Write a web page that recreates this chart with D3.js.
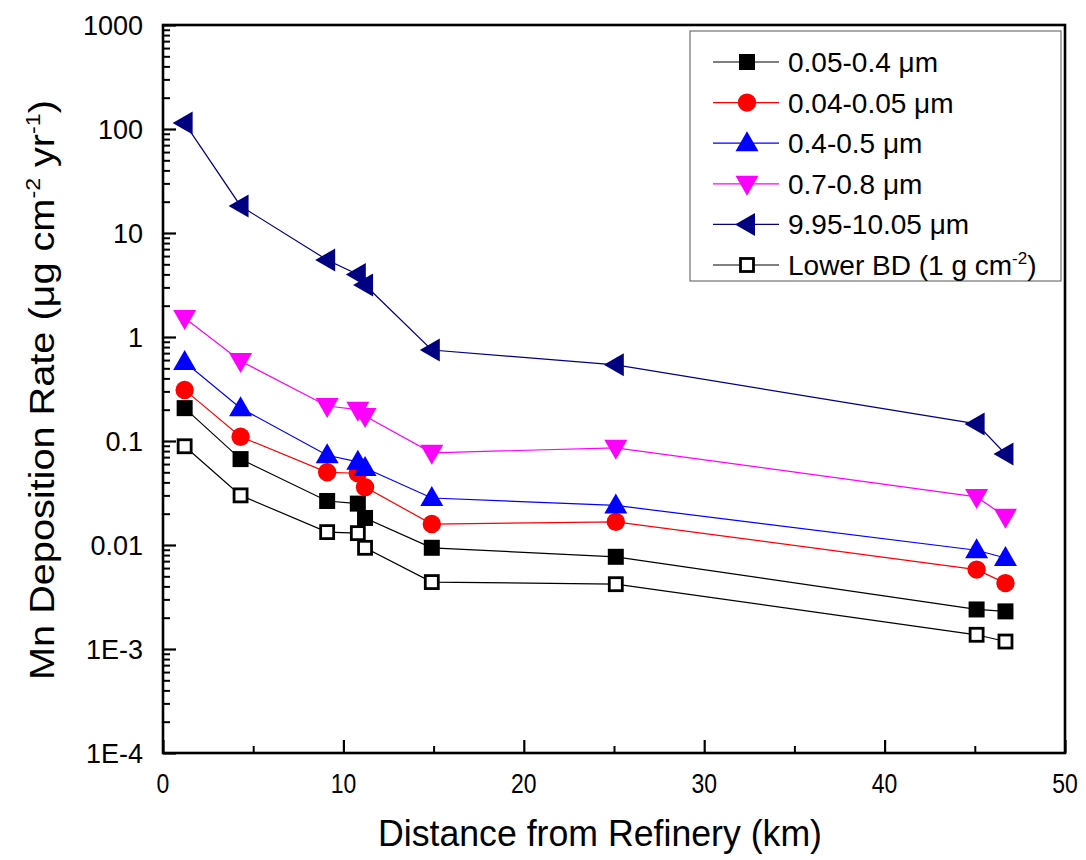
<!DOCTYPE html>
<html><head><meta charset="utf-8">
<script src="https://cdn.jsdelivr.net/npm/d3@7"></script>
<style>body{margin:0;background:#fff;} text{font-family:"Liberation Sans",Arial,sans-serif;}</style>
</head><body>
<svg id="c" width="1086" height="860"></svg>
<script>
const distances = [1.2, 4.3, 9.1, 10.8, 11.2, 14.9, 25.1, 45.1, 46.7];
const s005_04   = [0.207, 0.067, 0.0265, 0.025, 0.0182, 0.0094, 0.0077, 0.0024, 0.0023];
const s004_005  = [0.31, 0.11, 0.050, 0.049, 0.036, 0.0159, 0.0167, 0.0058, 0.0043];
const s04_05    = [0.575, 0.207, 0.073, 0.063, 0.055, 0.0283, 0.024, 0.0089, 0.0075];
const s07_08    = [1.52, 0.588, 0.217, 0.20, 0.174, 0.077, 0.086, 0.029, 0.0187];
const s995_1005 = [114, 18.2, 5.5, 4.0, 3.16, 0.75, 0.54, 0.146, 0.075];
const sLowerBD  = [0.089, 0.030, 0.0133, 0.013, 0.0094, 0.0044, 0.0042, 0.00137, 0.00118];
const seriesNames = ["0.05-0.4 μm","0.04-0.05 μm","0.4-0.5 μm","0.7-0.8 μm","9.95-10.05 μm","Lower BD (1 g cm-2)"];
const xTicks = [0,10,20,30,40,50];
const yTicks = [1e-4,1e-3,0.01,0.1,1,10,100,1000];
const yTickLabels = ["1E-4","1E-3","0.01","0.1","1","10","100","1000"];

const series = [
  {name:seriesNames[0], values:s005_04, color:"#000000", shape:"square", fill:"#000000"},
  {name:seriesNames[1], values:s004_005, color:"#ff0000", shape:"circle", fill:"#ff0000"},
  {name:seriesNames[2], values:s04_05, color:"#0000ff", shape:"up", fill:"#0000ff"},
  {name:seriesNames[3], values:s07_08, color:"#ff00ff", shape:"down", fill:"#ff00ff"},
  {name:seriesNames[4], values:s995_1005, color:"#000080", shape:"left", fill:"#000080"},
  {name:seriesNames[5], values:sLowerBD, color:"#000000", shape:"square", fill:"#ffffff"}
];

const L=163,R=1065,T=25,B=753;
const svg=d3.select("#c");
const x=d3.scaleLinear().domain([0,50]).range([L,R]);
const y=d3.scaleLog().domain([1e-4,1000]).range([B,T]);

function marker(g, shape, cx, cy, fill, stroke){
  if(shape==="square"){
    const s = fill==="#ffffff"?13:16;
    g.append("rect").attr("x",cx-s/2).attr("y",cy-s/2).attr("width",s).attr("height",s)
     .attr("fill",fill).attr("stroke",stroke).attr("stroke-width",fill==="#ffffff"?2.8:0);
  } else if(shape==="circle"){
    g.append("circle").attr("cx",cx).attr("cy",cy).attr("r",9.2).attr("fill",fill);
  } else {
    const a=11.5, h=20;
    let pts;
    if(shape==="up") pts=[[cx,cy-h*0.6],[cx+a,cy+h*0.4],[cx-a,cy+h*0.4]];
    else if(shape==="down") pts=[[cx,cy+h*0.6],[cx+a,cy-h*0.4],[cx-a,cy-h*0.4]];
    else pts=[[cx-h*0.6,cy],[cx+h*0.4,cy-a],[cx+h*0.4,cy+a]];
    g.append("polygon").attr("points",pts.map(p=>p.join(",")).join(" ")).attr("fill",fill);
  }
}

// axes ticks (inward)
const gy=svg.append("g").attr("transform",`translate(${L},0)`).call(d3.axisRight(y).tickValues(yTicks).tickSize(13).tickFormat(""));
gy.select(".domain").remove();
gy.selectAll("line").attr("stroke","#000").attr("stroke-width",2.2);
const minor=[];
for(let e=-4;e<3;e++) for(let m=2;m<=9;m++) minor.push(m*Math.pow(10,e));
const gym=svg.append("g").attr("transform",`translate(${L},0)`).call(d3.axisRight(y).tickValues(minor).tickSize(7).tickFormat(""));
gym.select(".domain").remove();
gym.selectAll("line").attr("stroke","#000").attr("stroke-width",2);

const gx=svg.append("g").attr("transform",`translate(0,${B})`).call(d3.axisTop(x).tickValues(xTicks).tickSize(13).tickFormat(""));
gx.select(".domain").remove();
gx.selectAll("line").attr("stroke","#000").attr("stroke-width",2.2);
const gxm=svg.append("g").attr("transform",`translate(0,${B})`).call(d3.axisTop(x).tickValues([5,15,25,35,45]).tickSize(7).tickFormat(""));
gxm.select(".domain").remove();
gxm.selectAll("line").attr("stroke","#000").attr("stroke-width",2);

// tick labels
svg.append("g").selectAll("text").data(yTicks).join("text")
  .attr("x",L-20).attr("y",d=>y(d)+10).attr("text-anchor","end")
  .attr("font-size",27).text((d,i)=>yTickLabels[i]);
svg.append("g").selectAll("text").data(xTicks).join("text")
  .attr("x",d=>x(d)).attr("y",B+40).attr("text-anchor","middle")
  .attr("font-size",28).attr("transform",d=>`translate(${x(d)},0) scale(0.82,1) translate(${-x(d)},0)`).text(d=>d);

// frame
svg.append("rect").attr("x",L).attr("y",T).attr("width",R-L).attr("height",B-T)
  .attr("fill","none").attr("stroke","#000").attr("stroke-width",2.6);

// series
const line=d3.line().x((d,i)=>x(distances[i])).y(d=>y(d));
series.forEach(s=>{
  const g=svg.append("g");
  g.append("path").attr("d",line(s.values)).attr("fill","none").attr("stroke",s.color).attr("stroke-width",1.2);
  s.values.forEach((v,i)=>marker(g,s.shape,x(distances[i]),y(v),s.fill,s.color));
});

// legend
const lg=svg.append("g");
lg.append("rect").attr("x",690).attr("y",31).attr("width",371).attr("height",250)
  .attr("fill","#fff").attr("stroke","#555").attr("stroke-width",1);
series.forEach((s,i)=>{
  const cy=62+i*40.6;
  lg.append("line").attr("x1",713).attr("x2",779).attr("y1",cy).attr("y2",cy).attr("stroke",s.color).attr("stroke-width",1.2);
  marker(lg,s.shape,747,cy,s.fill,s.color);
  const t=lg.append("text").attr("x",788).attr("y",cy+10).attr("font-size",28);
  if(i===5){
    t.append("tspan").text("Lower BD (1 g cm");
    t.append("tspan").attr("dy",-11).attr("font-size",17).text("-2");
    t.append("tspan").attr("dy",11).text(")");
  } else t.text(s.name);
});

// axis titles
svg.append("text").attr("x",600).attr("y",846).attr("text-anchor","middle").attr("font-size",37)
  .attr("textLength",444).attr("lengthAdjust","spacingAndGlyphs").text("Distance from Refinery (km)");
const yt=svg.append("text").attr("text-anchor","start").attr("font-size",36);
yt.append("tspan").text("Mn Deposition Rate (μg cm");
yt.append("tspan").attr("dy",-14).attr("font-size",21).text("-2");
yt.append("tspan").attr("dy",14).text(" yr");
yt.append("tspan").attr("dy",-14).attr("font-size",21).text("-1");
yt.append("tspan").attr("dy",14).text(")");
const w=yt.node().getComputedTextLength();
const targetLen=580, sx=targetLen/w;
yt.attr("transform",`translate(54,${390+targetLen/2}) rotate(-90) scale(${sx},1)`);
</script>
</body></html>
